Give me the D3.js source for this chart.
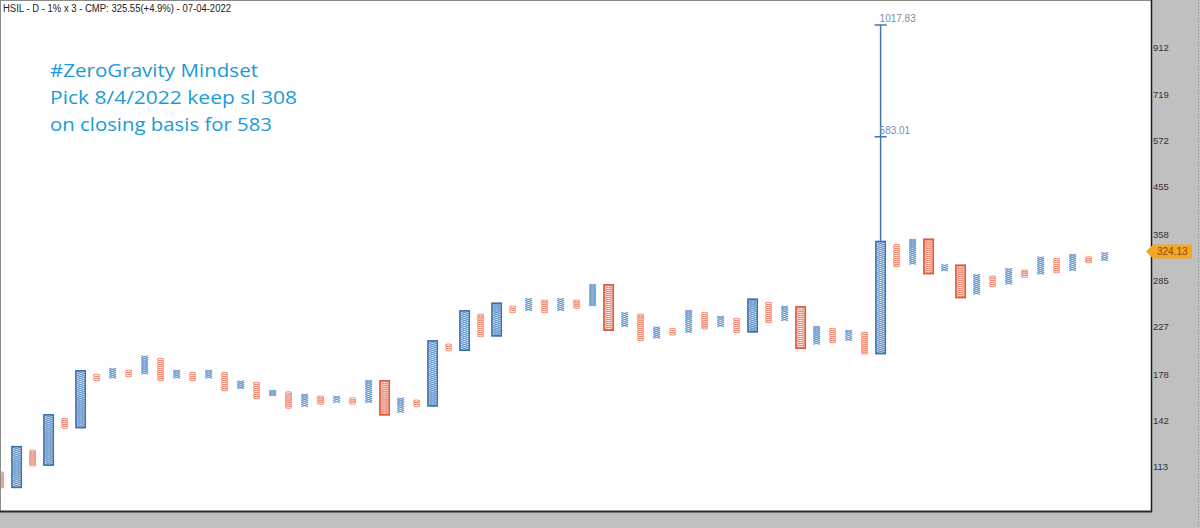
<!DOCTYPE html>
<html><head><meta charset="utf-8">
<script src="https://cdn.jsdelivr.net/npm/d3@7"></script>
<style>body{margin:0;background:#fff}svg{display:block}</style>
</head><body>
<svg id="c" width="1200" height="528"></svg>
<script>
// ---------- data ----------
const title = "HSIL - D - 1% x 3 - CMP: 325.55(+4.9%) - 07-04-2022";
const notes = ["#ZeroGravity Mindset", "Pick 8/4/2022 keep sl 308", "on closing basis for 583"];
const colTypes = ("OXOXOXOXOX" + "OXOXOXOXOX" + "OXOXOXOXOX" + "OXOXOXOXOX" +
                  "OXOXOXOXOX" + "OXOXOXOXOX" + "OXOXOXOXOX").split("");
const colHighs = [109.7,123.9,122.4,145.2,143.3,180.8,178.5,183.9,182.3,195.8,
                  193.2,182.3,180.2,182.3,180.2,172.8,171.5,165.0,163.6,161.8,
                  160.2,160.2,158.8,173.4,172.0,158.8,157.0,209.9,207.5,243.8,
                  241.0,253.3,250.8,260.6,258.4,260.6,258.4,279.8,277.5,243.0,
                  241.0,226.2,224.4,245.9,243.0,238.6,235.9,258.4,255.4,250.8,
                  248.7,227.0,224.4,222.5,220.0,344.5,341.0,350.2,348.4,308.7,
                  306.1,293.7,291.2,302.6,300.1,320.6,318.1,325.0,320.6,327.7];
const colLows  = [101.3,102.0,113.0,114.0,136.3,137.4,172.8,174.9,176.3,178.5,
                  172.8,174.9,172.8,174.9,164.4,166.1,158.0,160.2,150.6,151.9,
                  153.7,154.9,153.7,154.9,146.4,147.4,151.9,153.1,200.7,202.1,
                  215.2,217.0,242.6,245.0,242.6,245.0,247.9,250.8,223.3,226.2,
                  211.0,213.5,217.0,219.6,223.6,226.2,219.6,221.4,230.8,233.1,
                  204.1,207.2,208.9,211.0,197.3,198.7,305.0,308.7,296.0,298.6,
                  262.7,265.8,276.1,279.4,289.3,293.7,296.0,299.0,311.2,314.3];
const boxedCols = [1,3,5,24,27,29,31,38,47,50,55,58,60];
const yTicks = [113,142,178,227,285,358,455,572,719,912];
const targets = [583.01, 1017.83];
const targetCol = 55;
const lastPrice = 324.13;

// ---------- chart ----------
const svg = d3.select("#c");
const W = 1200, H = 528, plotR = 1151, plotB = 511;
const x = d3.scaleLinear().domain([0, 69]).range([0.6, 1104.6]);
const y = d3.scaleLog().domain([113, 912]).range([466, 47]);

svg.append("rect").attr("width", W).attr("height", H).attr("fill", "#fff");
svg.append("defs").append("clipPath").attr("id", "plot")
  .append("rect").attr("x", 1).attr("y", 1).attr("width", plotR - 1).attr("height", plotB - 1);

const g = svg.append("g").attr("clip-path", "url(#plot)");
const cols = colTypes.map((t, i) => ({i, t, hi: colHighs[i], lo: colLows[i], boxed: boxedCols.includes(i)}));

const XC = "#5a8fca", OC = "#f27d62", XB = "#3c6ea7", OB = "#e3553a";

cols.forEach(c => {
  const cx = x(c.i), yt = y(c.hi), yb = y(c.lo);
  const n = Math.max(1, Math.round((yb - yt) / 2));
  const h = (yb - yt) / n;
  const cg = g.append("g");
  const ks = d3.range(n);
  if (c.t === "X") {
    cg.selectAll("path").data(ks).join("path")
      .attr("d", k => { const y0 = yt + k * h; return `M${cx-3.5},${y0}L${cx+3.5},${y0+h}M${cx+3.5},${y0}L${cx-3.5},${y0+h}`; })
      .attr("stroke", XC).attr("stroke-width", 0.9).attr("fill", "none");
  } else {
    cg.selectAll("ellipse").data(ks).join("ellipse")
      .attr("cx", cx).attr("cy", k => yt + k * h + h / 2)
      .attr("rx", 3.4).attr("ry", h / 2)
      .attr("stroke", OC).attr("stroke-width", 0.9).attr("fill", "none");
  }
  if (c.boxed) {
    cg.append("rect").attr("x", cx - 4.6).attr("y", yt - 0.8)
      .attr("width", 9.2).attr("height", yb - yt + 1.6)
      .attr("fill", "none").attr("stroke", c.t === "X" ? XB : OB).attr("stroke-width", 1.7);
  }
});

// vertical count projection
const tcx = x(targetCol);
g.append("line").attr("x1", tcx).attr("x2", tcx)
  .attr("y1", y(colHighs[targetCol])).attr("y2", y(d3.max(targets)))
  .attr("stroke", "#4676a8").attr("stroke-width", 1.5);
targets.forEach(t => {
  g.append("line").attr("x1", tcx - 6).attr("x2", tcx + 6).attr("y1", y(t)).attr("y2", y(t))
    .attr("stroke", "#4676a8").attr("stroke-width", 1.5);
  g.append("text").attr("x", tcx - 1).attr("y", y(t) - 2.5)
    .attr("font-family", "Liberation Sans, Arial, sans-serif").attr("font-size", 10)
    .attr("fill", "#6f8fb2").text(t.toFixed(2));
});

// notes
notes.forEach((s, i) => {
  const widths = [208, 247, 222];
  svg.append("text").attr("x", 50).attr("y", 77 + i * 27)
    .attr("font-family", "Open Sans, sans-serif").attr("font-size", 18)
    .attr("fill", "#1b9bd7").attr("textLength", widths[i]).attr("lengthAdjust", "spacingAndGlyphs")
    .text(s);
});

// title
svg.append("text").attr("x", 3).attr("y", 12)
  .attr("font-family", "Liberation Sans, Arial, sans-serif").attr("font-size", 10)
  .attr("fill", "#222").attr("textLength", 228).attr("lengthAdjust", "spacingAndGlyphs").text(title);

// frame and axis area
svg.append("rect").attr("x", plotR + 1).attr("y", 0).attr("width", W - plotR - 1).attr("height", H).attr("fill", "#c0c0c0");
svg.append("rect").attr("x", 0).attr("y", plotB + 1).attr("width", W).attr("height", H - plotB - 1).attr("fill", "#c0c0c0");
svg.append("line").attr("x1", 0.5).attr("x2", 0.5).attr("y1", 0).attr("y2", plotB).attr("stroke", "#8a8a8a");
svg.append("line").attr("x1", 0).attr("x2", plotR).attr("y1", 0.5).attr("y2", 0.5).attr("stroke", "#8a8a8a");
svg.append("line").attr("x1", plotR + 0.5).attr("x2", plotR + 0.5).attr("y1", 0).attr("y2", plotB + 1).attr("stroke", "#1a1a1a").attr("stroke-width", 1.5);
svg.append("line").attr("x1", 0).attr("x2", plotR + 1).attr("y1", plotB + 0.5).attr("y2", plotB + 0.5).attr("stroke", "#2a2a2a").attr("stroke-width", 2);
svg.append("line").attr("x1", 1198.5).attr("x2", 1198.5).attr("y1", 0).attr("y2", H)
  .attr("stroke", "#8a8a8a").attr("stroke-dasharray", "1,2");

const axis = d3.axisRight(y).tickValues(yTicks).tickFormat(d3.format("d")).tickSize(0).tickPadding(0);
const ag = svg.append("g").attr("transform", `translate(${plotR + 2},0)`).call(axis);
ag.select(".domain").remove();
ag.selectAll("text").attr("font-family", "Liberation Sans, Arial, sans-serif")
  .attr("font-size", 9.5).attr("fill", "#333");

// last price flag
const yc = y(lastPrice) - 3;
svg.append("path")
  .attr("d", `M1146,${yc}L1153,${yc-7}L1192,${yc-7}L1192,${yc+7}L1153,${yc+7}Z`)
  .attr("fill", "#f6a623");
svg.append("text").attr("x", 1157).attr("y", yc).attr("dy", "0.35em")
  .attr("font-family", "Liberation Sans, Arial, sans-serif").attr("font-size", 10)
  .attr("fill", "#8a4a10").text(lastPrice.toFixed(2));
</script>
</body></html>
